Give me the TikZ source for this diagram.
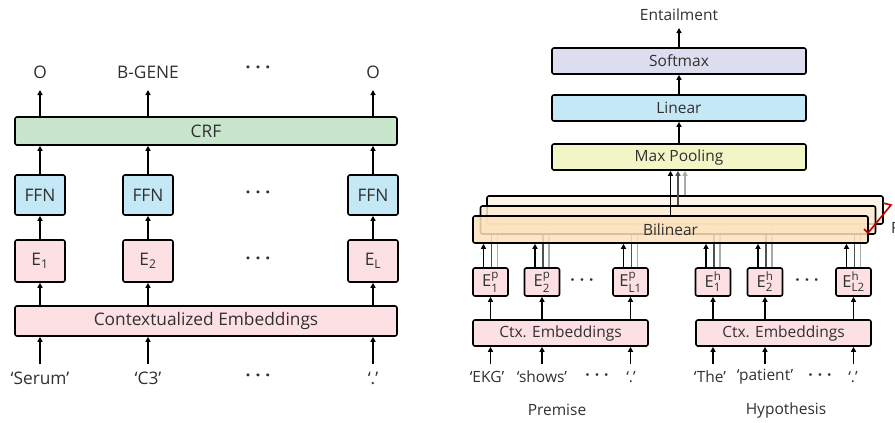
\documentclass[tikz,border=0pt]{standalone}
\usepackage{amsmath}
\usepackage{fontspec}
\setmainfont{Open Sans}
\usetikzlibrary{arrows.meta}
\definecolor{txt}{HTML}{303030}
\definecolor{crfc}{HTML}{C9E6CC}
\definecolor{ffnc}{HTML}{C5E8F7}
\definecolor{embc}{HTML}{FDE0E3}
\definecolor{softc}{HTML}{DCDEF0}
\definecolor{poolc}{HTML}{F2F5C6}
\definecolor{bilc}{HTML}{FDE2BE}
\definecolor{bilmid}{HTML}{FDEBD4}
\definecolor{bilback}{HTML}{FEF3E4}
\definecolor{darkg}{HTML}{505050}
\definecolor{lightg}{HTML}{AAAAAA}
\definecolor{redc}{HTML}{C00000}
\newcommand{\dts}{\textbf{\textperiodcentered\hspace{5pt}\textperiodcentered\hspace{5pt}\textperiodcentered}}
\newcommand{\Esub}[1]{E$_{\text{#1}}$}
\newcommand{\Esubsup}[2]{E$^{\text{#1}}_{\text{#2}}$}
\begin{document}
\begin{tikzpicture}[x=1pt,y=-1pt,
  box/.style={draw=black, line width=1.6pt, rounded corners=2pt, inner sep=0pt, text=txt},
  lbl/.style={text=txt, inner sep=2pt},
  big/.style={font=\fontsize{17.3}{20}\selectfont},
  sml/.style={font=\fontsize{15.5}{18}\selectfont},
  ebx/.style={font=\fontsize{16.5}{18}\selectfont},
  arr/.style={-{Triangle[length=5pt,width=5pt]}, line width=1.4pt, black},
  garr/.style={-{Triangle[length=5pt,width=5pt]}, line width=1.4pt},
  gl/.style={line width=1.4pt}
]
\useasboundingbox (0,0) rectangle (895,423);
% ---------------- left diagram ----------------
\node[box,big,fill=crfc,minimum width=382pt,minimum height=28pt] (crf) at (206,131) {CRF};
\node[box,big,fill=ffnc,minimum width=50pt,minimum height=40pt] (f1) at (40,195) {FFN};
\node[box,big,fill=ffnc,minimum width=50pt,minimum height=40pt] (f2) at (148,195) {FFN};
\node[box,big,fill=ffnc,minimum width=50pt,minimum height=40pt] (f3) at (373,195) {FFN};
\node[box,big,fill=embc,minimum width=50pt,minimum height=42pt] (e1) at (40,261) {\Esub{1}};
\node[box,big,fill=embc,minimum width=50pt,minimum height=42pt] (e2) at (148,261) {\Esub{2}};
\node[box,big,fill=embc,minimum width=50pt,minimum height=42pt] (e3) at (373,261) {\Esub{L}};
\node[box,big,fill=embc,minimum width=382pt,minimum height=30pt] (ctx) at (206,321) {Contextualized Embeddings};
\node[lbl,big] (o1) at (40,72) {O};
\node[lbl,big] (o2) at (148,72) {B-GENE};
\node[lbl,big] (od) at (258,70) {\dts};
\node[lbl,big] (o3) at (373,72) {O};
\node[lbl,big] (fd) at (258,195) {\dts};
\node[lbl,big] (ed) at (258,261) {\dts};
\node[lbl,big] (w1) at (40,378) {`Serum'};
\node[lbl,big] (w2) at (148,378) {`C3'};
\node[lbl,big] (wd) at (258,378) {\dts};
\node[lbl,big] (w3) at (373,378) {`.'};
\foreach \i/\x in {1/40,2/148,3/373}{
  \draw[arr] (w\i.north |- 0,364) -- (w\i.north |- ctx.south);
  \draw[arr] (e\i.north |- ctx.north) -- (e\i.south);
  \draw[arr] (e\i.north) -- (f\i.south);
  \draw[arr] (f\i.north) -- (f\i.north |- crf.south);
  \draw[arr] (f\i.north |- crf.north) -- (f\i.north |- 0,90);
}
% ---------------- right diagram ----------------
\node[lbl,sml] (ent) at (679,15) {Entailment};
\node[box,sml,fill=softc,minimum width=254pt,minimum height=26pt] (soft) at (679,61) {Softmax};
\node[box,sml,fill=ffnc,minimum width=254pt,minimum height=26pt] (lin) at (679,108) {Linear};
\node[box,sml,fill=poolc,minimum width=254pt,minimum height=26pt] (pool) at (679,157) {Max Pooling};
\draw[arr] (soft.north) -- (soft.north |- 0,28);
\draw[arr] (lin.north) -- (soft.south);
\draw[arr] (pool.north) -- (lin.south);
% E boxes
\node[box,ebx,fill=embc,minimum width=35pt,minimum height=28pt] (p1) at (490.5,282) {\Esubsup{p}{1}};
\node[box,ebx,fill=embc,minimum width=35pt,minimum height=28pt] (p2) at (542,282) {\Esubsup{p}{2}};
\node[box,ebx,fill=embc,minimum width=35pt,minimum height=28pt] (p3) at (630.5,282) {\Esubsup{p}{L1}};
\node[box,ebx,fill=embc,minimum width=35pt,minimum height=28pt] (h1) at (713,282) {\Esubsup{h}{1}};
\node[box,ebx,fill=embc,minimum width=35pt,minimum height=28pt] (h2) at (765,282) {\Esubsup{h}{2}};
\node[box,ebx,fill=embc,minimum width=35pt,minimum height=28pt] (h3) at (853.5,282) {\Esubsup{h}{L2}};
\node[lbl,sml] (pd) at (582,282) {\dts};
\node[lbl,sml] (hd) at (807,282) {\dts};
% gray lines from E boxes (behind bilinear layers)
\foreach \n in {p1,p2,p3,h1,h2,h3}{
  \draw[gl,lightg] ([xshift=7pt]\n.north) -- ([xshift=7pt]\n.north |- 0,224);
  \draw[gl,darkg] ([xshift=1pt]\n.north) -- ([xshift=1pt]\n.north |- 0,234);
}
% bilinear stack
\node[box,fill=bilback,fill opacity=0.85,minimum width=396pt,minimum height=28pt] (bb) at (685,210) {};
\node[box,fill=bilmid,fill opacity=0.85,minimum width=395pt,minimum height=28pt] (bm) at (678,220) {};
\node[box,sml,fill=bilc,fill opacity=0.85,text opacity=1,minimum width=395pt,minimum height=27pt] (bf) at (670.5,229.5) {Bilinear};
\draw[garr,lightg] (bb.north) -- (bb.north |- pool.south);
\draw[garr,darkg] (bm.north) -- (bm.north |- pool.south);
\draw[arr] (bf.north) -- (bf.north |- pool.south);
\foreach \n in {p1,p2,p3,h1,h2,h3}{
  \draw[arr] ([xshift=-7pt]\n.north) -- ([xshift=-7pt]\n.north |- bf.south);
}
% red bracket and R
\draw[redc,line width=1.6pt,line join=miter] (883,203) -- (891,205) -- (868,233) -- (864,229);
\node[lbl,sml,anchor=west] (rl) at (889,228) {R};
% ctx boxes
\node[box,sml,fill=embc,minimum width=175pt,minimum height=26pt] (cp) at (560.5,333) {Ctx. Embeddings};
\node[box,sml,fill=embc,minimum width=175pt,minimum height=26pt] (ch) at (783.5,333) {Ctx. Embeddings};
\foreach \n in {p1,p2,p3}{
  \draw[arr] (\n.north |- cp.north) -- (\n.south);
  \draw[arr] (\n.north |- 0,364) -- (\n.north |- cp.south);
}
\foreach \n in {h1,h2,h3}{
  \draw[arr] (\n.north |- ch.north) -- (\n.south);
  \draw[arr] (\n.north |- 0,364) -- (\n.north |- ch.south);
}
\node[lbl,sml] (a1) at (487,377) {`EKG'};
\node[lbl,sml] (a2) at (542,377) {`shows'};
\node[lbl,sml] (ad) at (597,377) {\dts};
\node[lbl,sml] (a3) at (631,377) {`.'};
\node[lbl,sml] (b1) at (710,377) {`The'};
\node[lbl,sml] (b2) at (765,377) {`patient'};
\node[lbl,sml] (bd) at (820,377) {\dts};
\node[lbl,sml] (b3) at (853,377) {`.'};
\node[lbl,sml] (prem) at (557,410) {Premise};
\node[lbl,sml] (hyp) at (786,410) {Hypothesis};
\end{tikzpicture}
\end{document}
